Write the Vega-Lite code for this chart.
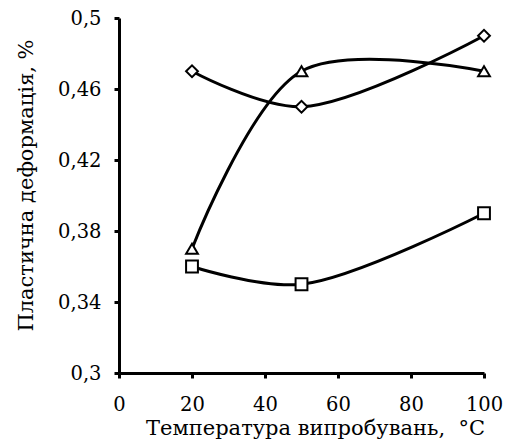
{
  "$schema": "https://vega.github.io/schema/vega-lite/v6.json",
  "width": 365,
  "height": 355,
  "autosize": "none",
  "padding": {"left": 119, "top": 18, "right": 24, "bottom": 68},
  "background": "white",
  "config": {
    "view": {"stroke": null},
    "font": "DejaVu Serif",
    "axis": {
      "grid": false,
      "domainColor": "black",
      "domainWidth": 3,
      "tickColor": "black",
      "tickWidth": 3,
      "tickSize": 5,
      "labelFont": "DejaVu Serif",
      "labelFontSize": 19.5,
      "labelColor": "black",
      "titleFont": "DejaVu Serif",
      "titleFontSize": 21,
      "titleFontWeight": "normal",
      "titleColor": "black"
    }
  },
  "data": {
    "values": [
      {"series": "A", "t": 20, "v": 0.47},
      {"series": "A", "t": 50, "v": 0.45},
      {"series": "A", "t": 100, "v": 0.49},
      {"series": "B", "t": 20, "v": 0.37},
      {"series": "B", "t": 50, "v": 0.47},
      {"series": "B", "t": 100, "v": 0.47},
      {"series": "C", "t": 20, "v": 0.36},
      {"series": "C", "t": 50, "v": 0.35},
      {"series": "C", "t": 100, "v": 0.39}
    ]
  },
  "encoding": {
    "x": {
      "field": "t",
      "type": "quantitative",
      "scale": {"domain": [0, 100], "nice": false, "zero": false},
      "axis": {
        "values": [0, 20, 40, 60, 80, 100],
        "title": "Температура випробувань, \u00a0°C",
        "labelPadding": 17,
        "titleBaseline": "alphabetic",
        "titleX": 196,
        "titleY": 61,
        "labelFlush": false
      }
    },
    "y": {
      "field": "v",
      "type": "quantitative",
      "scale": {"domain": [0.3, 0.5], "nice": false, "zero": false},
      "axis": {
        "values": [0.3, 0.34, 0.38, 0.42, 0.46, 0.5],
        "labelExpr": "replace(format(datum.value, '.2~f'), '.', ',')",
        "title": "Пластична деформація, %",
        "labelPadding": 13,
        "titleBaseline": "alphabetic",
        "titleX": -87,
        "titleY": 167
      }
    }
  },
  "layer": [
    {
      "mark": {"type": "line", "interpolate": "catmull-rom", "color": "black", "strokeWidth": 3},
      "encoding": {"detail": {"field": "series", "type": "nominal"}}
    },
    {
      "mark": {"type": "point", "filled": true, "fill": "white", "stroke": "black", "strokeWidth": 2, "opacity": 1, "size": 140},
      "encoding": {
        "shape": {
          "field": "series",
          "type": "nominal",
          "scale": {"domain": ["A", "B", "C"], "range": ["diamond", "triangle-up", "square"]},
          "legend": null
        }
      }
    }
  ]
}
